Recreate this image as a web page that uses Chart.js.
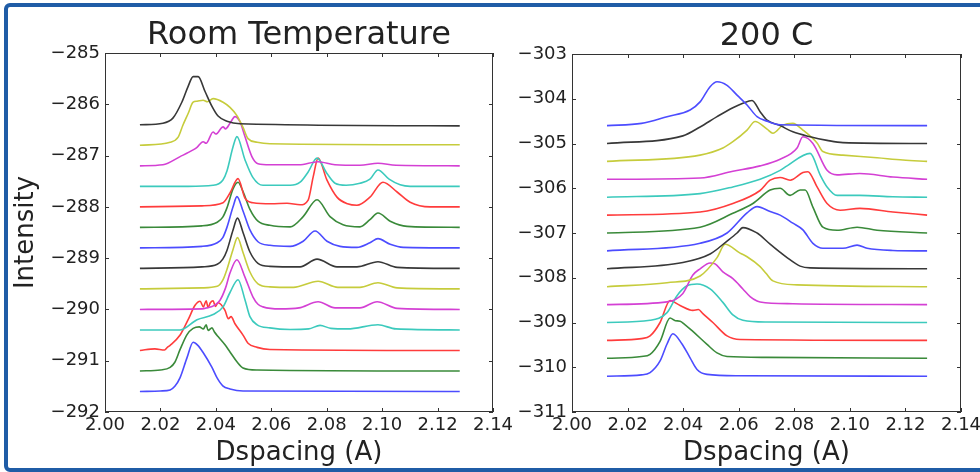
<!DOCTYPE html>
<html>
<head>
<meta charset="utf-8">
<script src="https://cdn.jsdelivr.net/npm/chart.js@4.4.1/dist/chart.umd.min.js"></script>
<style>
  html, body { margin: 0; padding: 0; background: #ffffff; }
  #wrap { position: relative; width: 980px; height: 472px; overflow: hidden; background: #fff; }
  #frame { position: absolute; left: 4px; top: 3px; width: 1000px; height: 469px; box-sizing: border-box;
           border: 4px solid #1f5ca6; border-radius: 6px; }
  canvas { position: absolute; left: 0; top: 0; }
</style>
</head>
<body>
<div id="wrap">
  <div id="frame"></div>
  <canvas id="left" width="980" height="472"></canvas>
  <canvas id="right" width="980" height="472"></canvas>
</div>
<script>
// ---------------- DATA ----------------
const xTicksRange = [2.00, 2.14];
const rtYRange = [-292, -285];
const hotYRange = [-311, -303];
const titles = ['Room Temperature', '200 C'];
const xLabel = 'Dspacing (A)';
const yLabel = 'Intensity';

// Vertical offsets (baselines) of the stacked traces, bottom to top
const rtOffsets  = [-291.6, -291.2, -290.8, -290.4, -290.0, -289.6, -289.2, -288.8, -288.4, -288.0, -287.6, -287.2, -286.8, -286.4];
const hotOffsets = [-310.2, -309.8, -309.4, -309.0, -308.6, -308.2, -307.8, -307.4, -307.0, -306.6, -306.2, -305.8, -305.4, -305.0, -304.6];

// Room temperature traces: [dspacing, intensity above baseline]
const rt00 = [[2.0126,0],[2.020,0.01],[2.0235,0.03],[2.0252,0.1],[2.0271,0.27],[2.0296,0.66],[2.0318,0.96],[2.0335,0.9],[2.0354,0.76],[2.0386,0.47],[2.0405,0.26],[2.0425,0.11],[2.0451,0.05],[2.0498,0.01],[2.128,0]];
const rt01 = [[2.0126,0],[2.020,0.02],[2.0235,0.07],[2.0252,0.17],[2.0271,0.42],[2.0296,0.71],[2.0318,0.83],[2.034,0.86],[2.0355,0.82],[2.0365,0.9],[2.0372,0.79],[2.0386,0.84],[2.0395,0.76],[2.0408,0.67],[2.0433,0.51],[2.0451,0.37],[2.0476,0.18],[2.0498,0.06],[2.0549,0.02],[2.128,0]];
const rt02 = [[2.0126,0],[2.018,0.03],[2.0215,0.01],[2.0225,0.06],[2.0235,0.1],[2.0271,0.3],[2.030,0.6],[2.0325,0.88],[2.0343,0.96],[2.0355,0.85],[2.0365,0.97],[2.0372,0.84],[2.038,0.93],[2.039,0.97],[2.0398,0.86],[2.0408,0.93],[2.0433,0.78],[2.0445,0.62],[2.0455,0.66],[2.0469,0.52],[2.0498,0.3],[2.0516,0.14],[2.0549,0.06],[2.0595,0.02],[2.128,0]];
const rt03 = [[2.0126,0],[2.0271,0],[2.0332,0.2],[2.039,0.3],[2.0426,0.45],[2.0451,0.73],[2.048,0.98],[2.0505,0.59],[2.0523,0.26],[2.0549,0.1],[2.0595,0.04],[2.0668,0.01],[2.0735,0.02],[2.0776,0.09],[2.0815,0.03],[2.0875,0.02],[2.0985,0.1],[2.105,0.02],[2.128,0]];
const rt04 = [[2.0126,0],[2.035,0.01],[2.0368,0.03],[2.0395,0.08],[2.0415,0.18],[2.0435,0.42],[2.0451,0.71],[2.0476,0.97],[2.0505,0.63],[2.0534,0.24],[2.0552,0.1],[2.057,0.05],[2.0631,0.01],[2.070,0.03],[2.0769,0.15],[2.083,0.03],[2.092,0.03],[2.0982,0.15],[2.1054,0.02],[2.128,0]];
const rt05 = [[2.0126,0],[2.035,0.02],[2.0405,0.05],[2.0425,0.17],[2.044,0.38],[2.0462,0.77],[2.0478,1.0],[2.0498,0.71],[2.0523,0.33],[2.0552,0.1],[2.0595,0.04],[2.068,0.03],[2.0769,0.15],[2.084,0.03],[2.092,0.03],[2.0985,0.12],[2.1054,0.02],[2.128,0]];
const rt06 = [[2.0126,0],[2.035,0.03],[2.0405,0.08],[2.0425,0.18],[2.044,0.35],[2.0462,0.75],[2.0478,0.98],[2.0498,0.7],[2.0523,0.32],[2.0552,0.1],[2.0595,0.04],[2.0704,0.03],[2.0765,0.18],[2.0837,0.03],[2.0909,0.03],[2.0985,0.13],[2.1054,0.02],[2.128,0]];
const rt07 = [[2.0126,0],[2.035,0.03],[2.0405,0.1],[2.0425,0.2],[2.044,0.4],[2.0462,0.8],[2.0476,1.0],[2.0498,0.72],[2.0523,0.35],[2.0552,0.12],[2.0595,0.05],[2.0668,0.03],[2.0715,0.13],[2.0758,0.33],[2.0801,0.13],[2.0848,0.03],[2.0909,0.01],[2.0956,0.1],[2.0985,0.18],[2.1029,0.07],[2.1076,0.01],[2.128,0]];
const rt08 = [[2.0126,0],[2.035,0.03],[2.0405,0.1],[2.0425,0.2],[2.044,0.38],[2.0462,0.75],[2.048,0.88],[2.0498,0.7],[2.0523,0.35],[2.0552,0.12],[2.0595,0.04],[2.0668,0.01],[2.0715,0.21],[2.0765,0.54],[2.0812,0.21],[2.0859,0.05],[2.092,0.01],[2.0956,0.15],[2.0985,0.28],[2.1029,0.12],[2.109,0.02],[2.128,0]];
const rt09 = [[2.0126,0],[2.035,0.02],[2.0426,0.08],[2.0451,0.27],[2.048,0.55],[2.0505,0.17],[2.0534,0.08],[2.060,0.06],[2.0657,0.07],[2.0704,0.04],[2.0733,0.13],[2.0751,0.58],[2.0769,0.95],[2.0801,0.52],[2.0837,0.19],[2.0875,0.06],[2.0909,0.03],[2.0956,0.19],[2.1003,0.48],[2.1054,0.29],[2.1101,0.09],[2.1173,0],[2.128,0]];
const rt10 = [[2.0126,0],[2.030,0],[2.039,0.02],[2.0425,0.12],[2.044,0.3],[2.0462,0.77],[2.0476,0.97],[2.0505,0.52],[2.0534,0.17],[2.057,0.02],[2.0668,0.02],[2.0704,0.08],[2.0733,0.28],[2.0765,0.55],[2.0801,0.25],[2.0830,0.06],[2.0870,0.02],[2.092,0.06],[2.0956,0.14],[2.0985,0.32],[2.1025,0.14],[2.1065,0.03],[2.1101,0],[2.128,0]];
const rt11 = [[2.0126,0],[2.0209,0.02],[2.0271,0.18],[2.0318,0.31],[2.0332,0.36],[2.0354,0.47],[2.0365,0.44],[2.039,0.66],[2.040,0.62],[2.0426,0.76],[2.0435,0.72],[2.0451,0.83],[2.0469,0.96],[2.0487,0.86],[2.0505,0.57],[2.053,0.18],[2.0552,0.04],[2.0595,0.02],[2.070,0.02],[2.0769,0.08],[2.083,0.02],[2.092,0.01],[2.0985,0.05],[2.105,0.01],[2.128,0]];
const rt12 = [[2.0126,0],[2.0235,0.06],[2.0264,0.16],[2.0281,0.39],[2.030,0.62],[2.0318,0.84],[2.0332,0.86],[2.0354,0.88],[2.037,0.85],[2.039,0.91],[2.0426,0.84],[2.0451,0.74],[2.0476,0.58],[2.0498,0.35],[2.0516,0.13],[2.0549,0.06],[2.0595,0.03],[2.128,0.01]];
const rt13 = [[2.0126,0],[2.0209,0.03],[2.0245,0.13],[2.0278,0.45],[2.030,0.75],[2.0318,0.94],[2.0336,0.94],[2.0361,0.65],[2.0386,0.36],[2.0408,0.17],[2.044,0.07],[2.0487,0.02],[2.128,-0.02]];
const rtProfiles = [rt00, rt01, rt02, rt03, rt04, rt05, rt06, rt07, rt08, rt09, rt10, rt11, rt12, rt13];

// 200 C traces: [dspacing, intensity above baseline]
const ht00 = [[2.0126,0],[2.0250,0.03],[2.0281,0.08],[2.0317,0.34],[2.0342,0.72],[2.0363,0.95],[2.0396,0.72],[2.0425,0.41],[2.045,0.15],[2.0486,0.04],[2.060,0.01],[2.1278,0]];
const ht01 = [[2.0126,0],[2.0250,0.04],[2.0281,0.09],[2.0317,0.38],[2.0353,0.9],[2.0372,0.84],[2.0389,0.83],[2.0405,0.76],[2.0435,0.6],[2.0486,0.31],[2.0522,0.12],[2.0558,0.04],[2.070,0.02],[2.1278,0]];
const ht02 = [[2.0126,0],[2.0250,0.04],[2.0281,0.1],[2.0317,0.4],[2.0353,0.89],[2.0389,0.78],[2.0435,0.67],[2.0455,0.69],[2.0471,0.6],[2.0507,0.4],[2.0558,0.1],[2.0605,0.02],[2.1278,0]];
const ht03 = [[2.0126,0],[2.0281,0.05],[2.0342,0.22],[2.0378,0.6],[2.0414,0.82],[2.045,0.86],[2.0497,0.75],[2.0543,0.45],[2.0579,0.17],[2.0615,0.05],[2.070,0.01],[2.1278,0]];
const ht04 = [[2.0126,0],[2.0342,0.06],[2.0399,0.25],[2.0435,0.66],[2.0461,0.8],[2.0497,0.93],[2.0515,0.91],[2.0543,0.73],[2.0579,0.58],[2.0615,0.35],[2.0641,0.18],[2.0666,0.08],[2.0677,0.06],[2.0795,0.02],[2.1278,0]];
const ht05 = [[2.0126,0],[2.0342,0.09],[2.0461,0.24],[2.0522,0.65],[2.0551,0.95],[2.0605,0.75],[2.063,0.67],[2.0677,0.45],[2.0698,0.3],[2.0723,0.13],[2.081,0.04],[2.1278,0]];
const ht06 = [[2.0126,0],[2.0399,0.14],[2.0497,0.33],[2.0558,0.62],[2.0594,0.8],[2.0615,0.92],[2.0666,0.8],[2.0677,0.75],[2.0713,0.55],[2.0774,0.25],[2.0821,0.06],[2.0857,0.02],[2.1278,0]];
const ht07 = [[2.0126,0],[2.0461,0.17],[2.0558,0.4],[2.063,0.85],[2.0666,0.99],[2.0713,0.88],[2.0749,0.8],[2.0795,0.62],[2.0831,0.47],[2.0867,0.17],[2.0903,0.06],[2.0975,0.06],[2.1026,0.13],[2.1062,0.06],[2.1155,0.01],[2.1278,0]];
const ht08 = [[2.0126,0],[2.0461,0.13],[2.0579,0.44],[2.0651,0.66],[2.0713,0.96],[2.0749,1.0],[2.0785,0.84],[2.0821,0.96],[2.0839,0.96],[2.0867,0.58],[2.0903,0.13],[2.0954,0.06],[2.1026,0.13],[2.1098,0.06],[2.1278,0]];
const ht09 = [[2.0126,0],[2.0461,0.07],[2.0579,0.26],[2.0677,0.55],[2.0713,0.78],[2.0749,0.84],[2.0785,0.78],[2.0831,0.95],[2.0849,0.97],[2.0882,0.63],[2.0918,0.26],[2.0965,0.11],[2.1036,0.15],[2.1155,0.07],[2.1278,0]];
const ht10 = [[2.0126,0],[2.0461,0.08],[2.0579,0.23],[2.0677,0.4],[2.0749,0.6],[2.0774,0.7],[2.0857,0.98],[2.0893,0.5],[2.0918,0.23],[2.0954,0.04],[2.1036,0.04],[2.1155,0.01],[2.1278,0]];
const ht11 = [[2.0126,0],[2.0461,0.03],[2.0579,0.18],[2.0677,0.3],[2.0749,0.45],[2.081,0.7],[2.0831,0.95],[2.0867,0.8],[2.0918,0.2],[2.0954,0.1],[2.1036,0.13],[2.1155,0.05],[2.1278,0]];
const ht12 = [[2.0126,0],[2.0461,0.14],[2.0543,0.3],[2.0579,0.44],[2.063,0.7],[2.0659,0.89],[2.0702,0.72],[2.0723,0.63],[2.0759,0.81],[2.0795,0.85],[2.0831,0.7],[2.0882,0.41],[2.0903,0.22],[2.0975,0.14],[2.1098,0.08],[2.1191,0.03],[2.1278,0]];
const ht13 = [[2.0126,0],[2.0399,0.17],[2.0461,0.37],[2.0522,0.6],[2.0579,0.8],[2.0615,0.9],[2.0648,0.96],[2.0677,0.71],[2.0702,0.52],[2.0749,0.4],[2.0795,0.26],[2.0857,0.15],[2.0918,0.07],[2.0975,0.02],[2.1278,0]];
const ht14 = [[2.0126,0],[2.025,0.05],[2.0342,0.2],[2.0425,0.35],[2.0461,0.53],[2.0497,0.87],[2.0522,0.98],[2.0558,0.9],[2.0594,0.68],[2.063,0.46],[2.0666,0.2],[2.0702,0.1],[2.0749,0.02],[2.1278,0]];
const hotProfiles = [ht00, ht01, ht02, ht03, ht04, ht05, ht06, ht07, ht08, ht09, ht10, ht11, ht12, ht13, ht14];

// matplotlib classic cycle b, g, r, c, m, y, k (as they appear)
const lineColors = ['#4c4cff', '#3a8a3a', '#ff3c3c', '#3ccabd', '#d440d4', '#c6cc3c', '#383838'];

// ---------------- CHART ----------------
const FONT = 'DejaVu Sans';
const TXT = '#222222';

function buildDatasets(profiles, offsets) {
  const n = profiles.length;
  return profiles.map((p, i) => ({
    data: p.map(([x, h]) => ({ x: x, y: offsets[i] + h })),
    borderColor: lineColors[i % lineColors.length],
    borderWidth: 1.6,
    pointRadius: 0,
    fill: false,
    cubicInterpolationMode: 'monotone',
    order: n - i
  }));
}

const framePlugin = {
  id: 'mplFrame',
  afterDatasetsDraw(chart) {
    const { ctx, chartArea: a, scales } = chart;
    const x = scales.x, y = scales.y;
    ctx.save();
    ctx.strokeStyle = '#333333';
    ctx.lineWidth = 1;
    ctx.beginPath();
    x.ticks.forEach(t => {
      const p = Math.round(x.getPixelForValue(t.value)) + 0.5;
      ctx.moveTo(p, a.bottom); ctx.lineTo(p, a.bottom - 4);
      ctx.moveTo(p, a.top); ctx.lineTo(p, a.top + 4);
    });
    y.ticks.forEach(t => {
      const p = Math.round(y.getPixelForValue(t.value)) + 0.5;
      ctx.moveTo(a.left, p); ctx.lineTo(a.left + 4, p);
      ctx.moveTo(a.right, p); ctx.lineTo(a.right - 4, p);
    });
    ctx.stroke();
    ctx.strokeRect(Math.round(a.left) + 0.5, Math.round(a.top) + 0.5,
                   Math.round(a.right - a.left) - 1, Math.round(a.bottom - a.top) - 1);
    ctx.restore();
  }
};

function makeChart(id, profiles, offsets, yRange, title, pad, yWidth, showYTitle) {
  const ctx = document.getElementById(id).getContext('2d');
  return new Chart(ctx, {
    type: 'line',
    data: { datasets: buildDatasets(profiles, offsets) },
    options: {
      responsive: false,
      animation: false,
      devicePixelRatio: 1,
      layout: { padding: pad },
      plugins: {
        legend: { display: false },
        tooltip: { enabled: false },
        title: {
          display: true, text: title, fullSize: false, color: TXT,
          font: { family: FONT, size: 32, weight: 'normal', lineHeight: 1 },
          padding: { top: 20, bottom: 1 }
        }
      },
      scales: {
        x: {
          type: 'linear', min: xTicksRange[0], max: xTicksRange[1],
          grid: { display: false, drawTicks: false },
          border: { display: false },
          ticks: {
            stepSize: 0.02, autoSkip: false, maxRotation: 0, padding: 3, color: TXT,
            font: { family: FONT, size: 18 },
            callback: v => Number(v).toFixed(2)
          },
          title: { display: true, text: xLabel, color: TXT,
                   font: { family: FONT, size: 26 }, padding: { top: 0, bottom: 3 } },
          afterFit(s) { s.height = 60; s.paddingLeft = 0; s.paddingRight = 0; }
        },
        y: {
          type: 'linear', min: yRange[0], max: yRange[1],
          grid: { display: false, drawTicks: false },
          border: { display: false },
          ticks: {
            stepSize: 1, autoSkip: false, padding: 5, color: TXT,
            font: { family: FONT, size: 18 },
            callback: v => (v < 0 ? '\u2212' : '') + Math.abs(Math.round(v))
          },
          title: { display: showYTitle, text: yLabel, color: TXT,
                   font: { family: FONT, size: 26 }, padding: { top: 11, bottom: 0 } },
          afterFit(s) { s.width = yWidth; s.paddingTop = 0; s.paddingBottom = 0; }
        }
      }
    },
    plugins: [framePlugin]
  });
}

makeChart('left', rtProfiles, rtOffsets, rtYRange, titles[0],
          { left: 0, right: 487, top: 0, bottom: 0 }, 105, true);
makeChart('right', hotProfiles, hotOffsets, hotYRange, titles[1],
          { left: 492, right: 19, top: 1, bottom: 0 }, 80, false);
</script>
</body>
</html>
